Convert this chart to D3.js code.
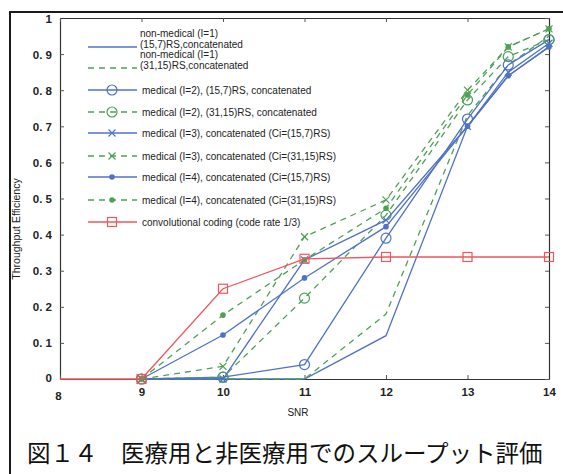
<!DOCTYPE html>
<html>
<head>
<meta charset="utf-8">
<script src="https://cdn.jsdelivr.net/npm/d3@7"></script>
<style>
  html, body { margin: 0; padding: 0; background: #fff; }
  svg { display: block; }
</style>
</head>
<body>
<script>
// SNR grid of the RS-coded runs and of the convolutional reference
const snrRS = [9, 10, 11, 12, 13, 13.5, 14];
const snrConv = [8, 9, 10, 11, 12, 13, 14];

// Throughput efficiency per scheme
const nonMed15 = [0, 0, 0, 0.12, 0.70, 0.84, 0.92];
const nonMed31 = [0, 0, 0, 0.18, 0.73, 0.87, 0.95];
const med2x15 = [0, 0.005, 0.04, 0.39, 0.72, 0.87, 0.94];
const med2x31 = [0, 0.005, 0.224, 0.454, 0.773, 0.893, 0.94];
const med3x15 = [0, 0, 0.33, 0.44, 0.70, 0.85, 0.93];
const med3x31 = [0, 0.035, 0.394, 0.496, 0.80, 0.92, 0.97];
const med4x15 = [0, 0.122, 0.28, 0.422, 0.70, 0.84, 0.92];
const med4x31 = [0, 0.177, 0.33, 0.473, 0.787, 0.92, 0.97];
const convCoding = [0, 0, 0.25, 0.333, 0.338, 0.338, 0.338];

const seriesNames = [
  ["non-medical (I=1)", "(15,7)RS,concatenated"],
  ["non-medical (I=1)", "(31,15)RS,concatenated"],
  ["medical (I=2), (15,7)RS, concatenated"],
  ["medical (I=2), (31,15)RS, concatenated"],
  ["medical (I=3), concatenated (Ci=(15,7)RS)"],
  ["medical (I=3), concatenated (Ci=(31,15)RS)"],
  ["medical (I=4), concatenated (Ci=(15,7)RS)"],
  ["medical (I=4), concatenated (Ci=(31,15)RS)"],
  ["convolutional coding (code rate 1/3)"]
];

const xTicks = [8, 9, 10, 11, 12, 13, 14];
const yTicks = [0, 0.1, 0.2, 0.3, 0.4, 0.5, 0.6, 0.7, 0.8, 0.9, 1];
const yTickLabels = ["0", "0. 1", "0. 2", "0. 3", "0. 4", "0. 5", "0. 6", "0. 7", "0. 8", "0. 9", "1"];
const xTitle = "SNR";
const yTitle = "Throughput Efficiency";
const caption = "図１４　医療用と非医療用でのスループット評価";

const W = 563, H = 474;
const blue = "#4f72c8", green = "#4f9f56", red = "#f0565c";

const series = [
  { x: snrRS, y: nonMed15, color: blue, dash: null, marker: "none" },
  { x: snrRS, y: nonMed31, color: green, dash: "6,5", marker: "none" },
  { x: snrRS, y: med2x15, color: blue, dash: null, marker: "circle" },
  { x: snrRS, y: med2x31, color: green, dash: "6,5", marker: "circle" },
  { x: snrRS, y: med3x15, color: blue, dash: null, marker: "cross" },
  { x: snrRS, y: med3x31, color: green, dash: "6,5", marker: "cross" },
  { x: snrRS, y: med4x15, color: blue, dash: null, marker: "dot" },
  { x: snrRS, y: med4x31, color: green, dash: "6,5", marker: "dot" },
  { x: snrConv, y: convCoding, color: red, dash: null, marker: "square", skipFirst: true }
];

const svg = d3.select("body").append("svg").attr("width", W).attr("height", H);

// outer figure frame
svg.append("path")
  .attr("d", `M10,${H + 2} L10,12 L${W + 2},12`)
  .attr("fill", "none").attr("stroke", "#1a1a1a").attr("stroke-width", 2);

const x = d3.scaleLinear().domain([8, 14]).range([60, 549]);
const y = d3.scaleLinear().domain([0, 1]).range([379, 18]);

const tickFont = "'Liberation Sans', Arial, sans-serif";

// axes with inward ticks on all four sides
const gL = svg.append("g").attr("transform", `translate(${x(8)},0)`)
  .call(d3.axisLeft(y).tickValues(yTicks).tickSizeInner(-4).tickSizeOuter(0).tickPadding(8)
    .tickFormat((d, i) => yTickLabels[i]));
const gB = svg.append("g").attr("transform", `translate(0,${y(0)})`)
  .call(d3.axisBottom(x).tickValues(xTicks).tickSizeInner(-4).tickSizeOuter(0).tickPadding(9)
    .tickFormat(d3.format("d")));
const gT = svg.append("g").attr("transform", `translate(0,${y(1)})`)
  .call(d3.axisTop(x).tickValues(xTicks).tickSizeInner(-4).tickSizeOuter(0).tickFormat(""));
const gR = svg.append("g").attr("transform", `translate(${x(14)},0)`)
  .call(d3.axisRight(y).tickValues(yTicks).tickSizeInner(-4).tickSizeOuter(0).tickFormat(""));

[gL, gB, gT, gR].forEach(g => {
  g.select(".domain").attr("stroke", "#333").attr("stroke-width", 1.2);
  g.selectAll(".tick line").attr("stroke", "#555");
  g.selectAll("text").attr("fill", "#222").style("font-family", tickFont)
    .style("font-size", "11.5px").style("font-weight", "bold");
});
gL.selectAll(".tick text").attr("dy", "0.35em");
// "8" sits just under the origin, lower than the other x labels
gB.selectAll(".tick text").filter(d => d === 8).attr("x", -2).attr("dy", "1.05em");
gL.selectAll(".tick text").filter(d => d === 0).attr("dy", "0.25em");

// axis titles
svg.append("text").attr("x", 298).attr("y", 416)
  .attr("text-anchor", "middle").style("font-family", tickFont).style("font-size", "10px")
  .attr("fill", "#222").text(xTitle);
svg.append("text").attr("transform", "translate(20,229) rotate(-90)")
  .attr("text-anchor", "middle").style("font-family", tickFont).style("font-size", "10.5px")
  .attr("fill", "#222").text(yTitle);

function drawMarker(g, kind, cx, cy, color) {
  if (kind === "circle") {
    g.append("circle").attr("cx", cx).attr("cy", cy).attr("r", 5)
      .attr("fill", "none").attr("stroke", color).attr("stroke-width", 1.2);
  } else if (kind === "cross") {
    const s = 3.5;
    g.append("path").attr("d", `M${cx - s},${cy - s}L${cx + s},${cy + s}M${cx - s},${cy + s}L${cx + s},${cy - s}`)
      .attr("stroke", color).attr("stroke-width", 1.2);
  } else if (kind === "dot") {
    g.append("circle").attr("cx", cx).attr("cy", cy).attr("r", 2.8).attr("fill", color);
  } else if (kind === "square") {
    g.append("rect").attr("x", cx - 4.5).attr("y", cy - 4.5).attr("width", 9).attr("height", 9)
      .attr("fill", "none").attr("stroke", color).attr("stroke-width", 1.2);
  }
}

const line = d3.line().x(d => x(d[0])).y(d => y(d[1]));
const plot = svg.append("g");
series.forEach(s => {
  const pts = s.x.map((v, i) => [v, s.y[i]]);
  plot.append("path").datum(pts).attr("d", line)
    .attr("fill", "none").attr("stroke", s.color).attr("stroke-width", 1.3)
    .attr("stroke-dasharray", s.dash);
  const mg = plot.append("g");
  pts.forEach((p, i) => {
    if (s.skipFirst && i === 0) return;
    drawMarker(mg, s.marker, x(p[0]), y(p[1]), s.color);
  });
});

// legend
const legendY = [47, 68, 90, 112, 133, 156, 177, 200, 222];
const lg = svg.append("g");
series.forEach((s, i) => {
  const ly = legendY[i];
  lg.append("line").attr("x1", 88).attr("x2", 137).attr("y1", ly).attr("y2", ly)
    .attr("stroke", s.color).attr("stroke-width", 1.3).attr("stroke-dasharray", s.dash);
  drawMarker(lg, s.marker, 112, ly, s.color);
  const names = seriesNames[i];
  const t = lg.append("text").style("font-family", tickFont).style("font-size", "10px")
    .attr("fill", "#222");
  if (names.length === 1) {
    t.append("tspan").attr("x", 142).attr("y", ly + 3.5).text(names[0]);
  } else {
    t.append("tspan").attr("x", 140).attr("y", ly - 10).text(names[0]);
    t.append("tspan").attr("x", 140).attr("y", ly + 1).text(names[1]);
  }
});

// figure caption
svg.append("text").attr("x", 27).attr("y", 462)
  .style("font-family", "'Noto Sans CJK JP', sans-serif").style("font-size", "23.5px")
  .attr("fill", "#111").text(caption);
</script>
</body>
</html>
